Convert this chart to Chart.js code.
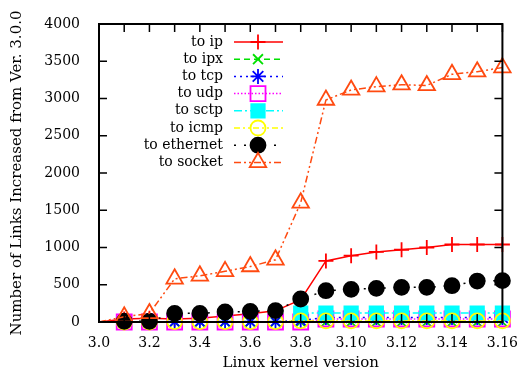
<!DOCTYPE html>
<html>
<head>
<meta charset="utf-8">
<script src="https://cdn.jsdelivr.net/npm/chart.js@4.4.1/dist/chart.umd.min.js"></script>
<style>
  html, body { margin: 0; padding: 0; background: #fff; }
</style>
</head>
<body>
<canvas id="linksChart" width="523" height="373"></canvas>
<script>
const versions = ['3.0', '3.1', '3.2', '3.3', '3.4', '3.5', '3.6', '3.7', '3.8',
                  '3.9', '3.10', '3.11', '3.12', '3.13', '3.14', '3.15', '3.16'];

const toIp       = [0, 40, 50, 40, 50, 80, 110, 150, 300, 820, 890, 940, 970, 1000, 1040, 1040, 1040];
const toIpx      = [0, 0, 0, 0, 0, 0, 0, 0, 0, 0, 0, 0, 0, 0, 0, 0, 0];
const toTcp      = [0, 0, 0, 5, 5, 5, 5, 5, 20, 60, 60, 60, 60, 60, 60, 60, 60];
const toUdp      = [0, 0, 0, 0, 0, 0, 0, 0, 0, 40, 40, 40, 40, 40, 40, 40, 40];
const toSctp     = [0, null, null, null, null, null, null, null, 120, 120, 120, 120, 120, 120, 120, 120, 120];
const toIcmp     = [0, 0, 0, 5, 5, 5, 5, 5, 15, 15, 15, 15, 15, 15, 15, 15, 15];
const toEthernet = [0, 10, 10, 116, 116, 134, 143, 152, 309, 420, 438, 452, 465, 465, 487, 550, 555];
const toSocket   = [0, 70, 115, 580, 620, 680, 745, 835, 1600, 2980, 3115, 3160, 3185, 3175, 3325, 3360, 3415];

const yTicks = [0, 500, 1000, 1500, 2000, 2500, 3000, 3500, 4000];

const FONT = 'DejaVu Serif';

function makeSet(label, data, color, dash, style, radius, filled, idx) {
    return {
        label: label,
        data: data,
        borderColor: color,
        borderWidth: 1.5,
        borderDash: dash,
        pointStyle: style,
        pointRadius: data.map((v, i) => i === 0 ? 0 : radius),
        pointBorderColor: color,
        pointBackgroundColor: filled ? color : 'rgba(0,0,0,0)',
        pointBorderWidth: 1.8,
        tension: 0,
        fill: false,
        clip: false,
        spanGaps: false,
        order: 7 - idx
    };
}

const datasets = [
    makeSet('to ip', toIp, '#ff0000', [], 'cross', 7.5, false, 0),
    makeSet('to ipx', toIpx, '#00e000', [6, 4], 'crossRot', 7, false, 1),
    makeSet('to tcp', toTcp, '#0000ff', [2, 4], 'star', 7.5, false, 2),
    makeSet('to udp', toUdp, '#ff00ff', [1.5, 2], 'rect', 10.6, false, 3),
    makeSet('to sctp', toSctp, '#00ffff', [8, 3, 2, 3], 'rect', 9.5, true, 4),
    makeSet('to icmp', toIcmp, '#ffff00', [6, 3, 2, 3, 2, 3], 'circle', 7.5, false, 5),
    makeSet('to ethernet', toEthernet, '#000000', [2, 8], 'circle', 7.5, true, 6),
    makeSet('to socket', toSocket, '#ff4a10', [7, 3, 2, 3, 2, 3], 'triangle', 9.5, false, 7)
];

// gnuplot-like box with inward ticks on every side
const framePlugin = {
    id: 'frame',
    afterDatasetsDraw(chart) {
        const {ctx, chartArea: a, scales: {x, y}} = chart;
        const len = 8;
        ctx.save();
        ctx.strokeStyle = '#000';
        ctx.lineWidth = 1.5;
        ctx.beginPath();
        versions.forEach((v, i) => {
            const px = x.getPixelForValue(i);
            ctx.moveTo(px, a.bottom); ctx.lineTo(px, a.bottom - len);
            ctx.moveTo(px, a.top); ctx.lineTo(px, a.top + len);
        });
        yTicks.forEach(v => {
            const py = y.getPixelForValue(v);
            ctx.moveTo(a.left, py); ctx.lineTo(a.left + len, py);
            ctx.moveTo(a.right, py); ctx.lineTo(a.right - len, py);
        });
        ctx.stroke();
        ctx.lineWidth = 2;
        ctx.strokeRect(a.left, a.top, a.right - a.left, a.bottom - a.top);
        ctx.restore();
    }
};

// key in the upper left: text right-aligned, sample line and marker after it
const keyPlugin = {
    id: 'key',
    afterDraw(chart) {
        const ctx = chart.ctx;
        const textRight = 223, lineL = 234, lineR = 283, markX = 258;
        ctx.save();
        ctx.font = '14px "' + FONT + '"';
        ctx.textAlign = 'right';
        ctx.textBaseline = 'middle';
        chart.data.datasets.forEach((ds, i) => {
            const yy = 42 + i * 17.2;
            ctx.fillStyle = '#000';
            ctx.fillText(ds.label, textRight, yy);
            ctx.strokeStyle = ds.borderColor;
            ctx.lineWidth = ds.borderWidth;
            ctx.setLineDash(ds.borderDash);
            ctx.beginPath();
            ctx.moveTo(lineL, yy); ctx.lineTo(lineR, yy);
            ctx.stroke();
            ctx.setLineDash([]);
            ctx.fillStyle = ds.pointBackgroundColor;
            ctx.strokeStyle = ds.pointBorderColor;
            ctx.lineWidth = ds.pointBorderWidth;
            Chart.helpers.drawPoint(ctx, {
                pointStyle: ds.pointStyle,
                radius: ds.pointRadius[1],
                rotation: 0,
                borderWidth: ds.pointBorderWidth
            }, markX, yy);
        });
        ctx.restore();
    }
};

new Chart(document.getElementById('linksChart'), {
    type: 'line',
    data: { labels: versions, datasets: datasets },
    options: {
        responsive: false,
        animation: false,
        events: [],
        layout: { padding: { top: 24, right: 16, left: 0, bottom: 0 } },
        plugins: {
            legend: { display: false },
            tooltip: { enabled: false }
        },
        scales: {
            x: {
                type: 'category',
                offset: false,
                grid: { display: false },
                border: { display: false },
                ticks: {
                    autoSkip: false,
                    maxRotation: 0,
                    padding: 5,
                    color: '#000',
                    font: { family: FONT, size: 14 },
                    callback: (v, i) => i % 2 === 0 ? versions[i] : ''
                },
                title: {
                    display: true,
                    text: 'Linux kernel version',
                    color: '#000',
                    font: { family: FONT, size: 15 },
                    padding: { top: 0, bottom: 1 }
                },
                afterFit(s) { s.height = 51; }
            },
            y: {
                min: 0,
                max: 4000,
                grid: { display: false },
                border: { display: false },
                ticks: {
                    stepSize: 500,
                    padding: 11,
                    color: '#000',
                    font: { family: FONT, size: 14 },
                    callback: v => String(v)
                },
                title: {
                    display: true,
                    text: 'Number of Links Increased from Ver. 3.0.0',
                    color: '#000',
                    font: { family: FONT, size: 15 },
                    padding: { top: 8, bottom: 0 }
                },
                afterFit(s) { s.width = 99; }
            }
        }
    },
    plugins: [framePlugin, keyPlugin]
});
</script>
</body>
</html>
